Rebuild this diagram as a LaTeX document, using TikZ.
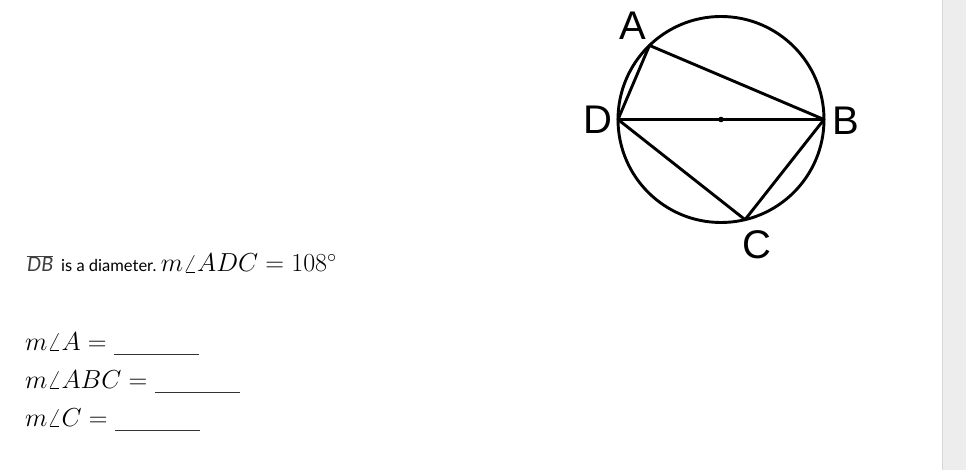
\RequirePackage{fix-cm}
\documentclass[tikz,border=0pt]{standalone}
\usepackage{fontspec}
\usetikzlibrary{calc}
\newfontfamily\labelfont{Liberation Sans}
\newfontfamily\latofont{Lato}
\definecolor{barfill}{HTML}{EDEDED}
\definecolor{baredge}{HTML}{D6D6D6}
\definecolor{blankline}{HTML}{333333}
\newcommand{\blank}{\textcolor{blankline}{\rule[-5pt]{85pt}{0.9pt}}}
\begin{document}
\begin{tikzpicture}[x=1pt, y=1pt,
  chord/.style={black, line width=2.9pt, line join=round},
  lbl/.style={font=\labelfont\fontsize{40}{40}\selectfont, inner sep=0pt},
  txt/.style={anchor=base west, inner sep=0pt, font=\fontsize{26}{30}\selectfont}]

\useasboundingbox (0,0) rectangle (966,-470);
\fill[white] (0,0) rectangle (966,-470);
\fill[barfill] (942,0) rectangle (966,-470);
\draw[baredge, line width=1pt] (942.5,0) -- (942.5,-470);

% circle and points
\coordinate (O) at (721,-119.5);
\coordinate (A) at ($(O)+(134:103)$);
\coordinate (B) at ($(O)+(0:103)$);
\coordinate (C) at ($(O)+(-76.5:103)$);
\coordinate (D) at ($(O)+(180:103)$);

\draw[chord] (O) circle (103);
\draw[chord] (D) -- (A) -- (B) -- (C) -- (D) -- (B);
\fill (O) circle (2.8);

\node[lbl] (labA) at (633,-26) {A};
\node[lbl] (labB) at (846,-121) {B};
\node[lbl] (labC) at (757,-245) {C};
\node[lbl] (labD) at (598,-120) {D};

% text
\node[txt] (given) at (27,-272) {{\latofont\fontsize{20}{22}\selectfont\color{darkgray}$\overline{\mbox{\itshape DB}}$} {\latofont\fontsize{16.5}{20}\selectfont is a diameter.}\,$m\angle ADC = 108^\circ$};
\node[txt] (qA) at (25,-350) {$m\angle A = {}$\blank};
\node[txt] (qB) at (25,-388) {$m\angle ABC = {}$\blank};
\node[txt] (qC) at (25,-426) {$m\angle C = {}$\blank};
\end{tikzpicture}
\end{document}
